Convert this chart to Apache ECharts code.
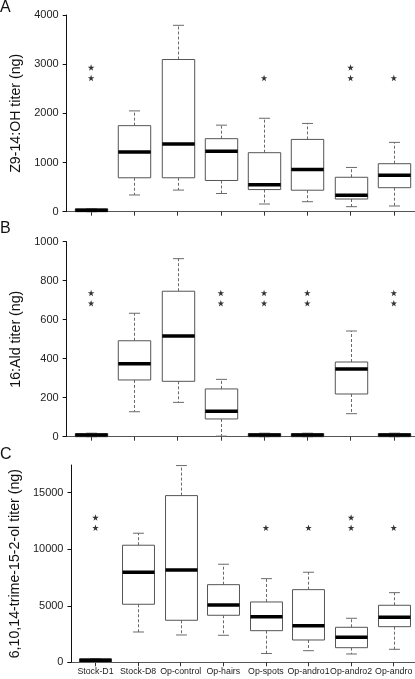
<!DOCTYPE html>
<html>
<head>
<meta charset="utf-8">
<script src="https://cdn.jsdelivr.net/npm/echarts@6/dist/echarts.min.js"></script>
<style>
html,body{margin:0;padding:0;background:#fff;}
#chart{width:415px;height:679px;}
</style>
</head>
<body>
<div id="chart"></div>
<script>
// ---- data ----
const categories = ['Stock-D1','Stock-D8','Op-control','Op-hairs','Op-spots','Op-andro1','Op-andro2','Op-andro'];

// five-number summaries per category: [min, q1, median, q3, max]
const boxesA = [
  [0, 0, 30, 55, 60],
  [340, 690, 1215, 1750, 2050],
  [440, 690, 1375, 3095, 3790],
  [370, 635, 1230, 1485, 1760],
  [156, 450, 550, 1200, 1900],
  [203, 437, 860, 1470, 1795],
  [102, 258, 333, 700, 900],
  [116, 488, 740, 976, 1410]
];
const boxesB = [
  [0, 0, 9, 15, 18],
  [128, 291, 374, 492, 633],
  [176, 284, 516, 746, 913],
  [3, 91, 130, 245, 294],
  [0, 0, 9, 15, 18],
  [0, 0, 9, 15, 18],
  [118, 219, 347, 383, 542],
  [0, 0, 9, 15, 18]
];
const boxesC = [
  [0, 0, 180, 300, 330],
  [2681, 5133, 7965, 10354, 11416],
  [2416, 3717, 8168, 14743, 17400],
  [2389, 4159, 5071, 6867, 8673],
  [780, 2796, 4035, 5336, 7398],
  [1027, 1973, 3239, 6425, 7965],
  [735, 1292, 2212, 3097, 3894],
  [1150, 3150, 3982, 5044, 6159]
];

// significance stars: count per category and the value levels they sit at
const starCountA = [2,0,0,0,1,0,2,1];
const starCountB = [2,0,0,2,2,2,0,2];
const starCountC = [2,0,0,0,1,1,2,1];
const starLevelsA = [2720, 2930];
const starLevelsB = [684, 737];
const starLevelsC = [11900, 12800];

const yTicksA = [0,1000,2000,3000,4000];
const yTicksB = [0,200,400,600,800,1000];
const yTicksC = [0,5000,10000,15000];

const yNames = ['Z9-14:OH titer (ng)','16:Ald titer (ng)','6,10,14-trime-15-2-ol titer (ng)'];
const panelLetters = ['A','B','C'];

// ---- build ----
const FONT = '"Liberation Sans", Arial, Helvetica, sans-serif';
const catIdx = categories.map((c,i)=>i);

function boxData(boxes){ return boxes.map((b,i)=>[i].concat(b)); }
function starData(counts, levels){
  const out=[];
  counts.forEach((n,i)=>{ for(let k=0;k<n;k++) out.push([i, levels[k]]); });
  return out;
}

function renderBox(params, api){
  const x = api.value(0);
  const lo = api.coord([x, api.value(1)]);
  const q1 = api.coord([x, api.value(2)]);
  const md = api.coord([x, api.value(3)]);
  const q3 = api.coord([x, api.value(4)]);
  const hi = api.coord([x, api.value(5)]);
  const hw = api.size([1,0])[0]*0.375;
  const cw = hw*0.34;
  const cx = Math.round(lo[0]) + 0.5;
  const wStyle = {stroke:'#6a6a6a', lineWidth:1, lineDash:[3,2]};
  const cStyle = {stroke:'#6a6a6a', lineWidth:1};
  return {
    type:'group',
    children:[
      {type:'line', shape:{x1:cx,y1:q3[1],x2:cx,y2:hi[1]}, style:wStyle},
      {type:'line', shape:{x1:cx,y1:q1[1],x2:cx,y2:lo[1]}, style:wStyle},
      {type:'line', shape:{x1:cx-cw,y1:hi[1],x2:cx+cw,y2:hi[1]}, style:cStyle},
      {type:'line', shape:{x1:cx-cw,y1:lo[1],x2:cx+cw,y2:lo[1]}, style:cStyle},
      {type:'rect', shape:{x:cx-hw, y:q3[1], width:2*hw, height:q1[1]-q3[1]},
        style:{fill:'#fff', stroke:'#555', lineWidth:1}},
      {type:'line', shape:{x1:cx-hw,y1:md[1],x2:cx+hw,y2:md[1]},
        style:{stroke:'#000', lineWidth:3.5}}
    ]
  };
}

const STAR = 'path://M50,0 L61.8,35.1 L98.1,35.1 L68.8,56.7 L79.4,91 L50,70 L20.6,91 L31.2,56.7 L1.9,35.1 L38.2,35.1 Z';

const grids = [
  {left:63, right:0, top:15, bottom:679-211.7},
  {left:63, right:0, top:241.7, bottom:679-436.7},
  {left:63, right:0, top:465, bottom:679-662.3}
];
const yMax = [4000, 1000, 17450];
const yTicks = [yTicksA, yTicksB, yTicksC];
const nameGaps = [36, 36, 43];
const allBoxes = [boxesA, boxesB, boxesC];
const allStars = [starData(starCountA,starLevelsA), starData(starCountB,starLevelsB), starData(starCountC,starLevelsC)];

const xAxes = grids.map((g,k)=>({
  type:'value', gridIndex:k, min:-0.65, max:7.49,
  axisLine:{show:true, onZero:false, lineStyle:{color:'#555', width:1}},
  axisTick:{show:true, length:4, inside:false, customValues:catIdx, lineStyle:{color:'#333'}},
  axisLabel:{show:k===2, customValues:catIdx, formatter:(v)=>categories[Math.round(v)] || '',
    fontSize:8.8, fontFamily:FONT, color:'#222', margin:5, hideOverlap:false,
    showMinLabel:true, showMaxLabel:true},
  splitLine:{show:false}
}));

const yAxes = grids.map((g,k)=>({
  type:'value', gridIndex:k, min:0, max:yMax[k], offset:-3.7,
  name:yNames[k], nameLocation:'middle', nameRotate:90, nameGap:nameGaps[k],
  nameTextStyle:{fontSize:14.2, fontFamily:FONT, color:'#111'},
  axisLine:{show:true, onZero:false, lineStyle:{color:'#111', width:1}},
  axisTick:{show:true, length:4, customValues:yTicks[k], lineStyle:{color:'#111'}},
  axisLabel:{customValues:yTicks[k], formatter:(v)=>String(v), fontSize:11, fontFamily:FONT, color:'#222', margin:8},
  splitLine:{show:false}
}));

const series = [];
for(let k=0;k<3;k++){
  series.push({
    type:'custom', xAxisIndex:k, yAxisIndex:k,
    renderItem:renderBox, data:boxData(allBoxes[k]),
    encode:{x:0, y:[1,2,3,4,5]}, clip:false, silent:true
  });
  series.push({
    type:'scatter', xAxisIndex:k, yAxisIndex:k, symbol:STAR, symbolSize:6.5,
    itemStyle:{color:'#000'}, data:allStars[k], silent:true
  });
}

const graphics = [
  {type:'text', left:0, top:0, style:{text:panelLetters[0], fontSize:16, fontFamily:FONT, fill:'#111'}},
  {type:'text', left:0, top:221, style:{text:panelLetters[1], fontSize:16, fontFamily:FONT, fill:'#111'}},
  {type:'text', left:0, top:447, style:{text:panelLetters[2], fontSize:16, fontFamily:FONT, fill:'#111'}}
];

const chart = echarts.init(document.getElementById('chart'), null, {renderer:'canvas'});
chart.setOption({
  animation:false,
  backgroundColor:'#fff',
  grid:grids,
  xAxis:xAxes,
  yAxis:yAxes,
  series:series,
  graphic:graphics
});
</script>
</body>
</html>
